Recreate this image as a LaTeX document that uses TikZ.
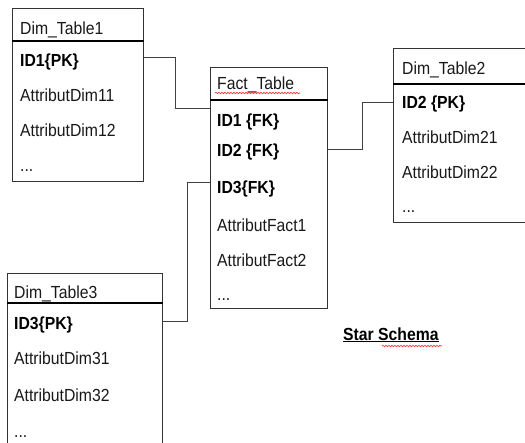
\documentclass[tikz,border=0pt]{standalone}
\usepackage{fontspec}
\setmainfont{Liberation Sans}[FakeStretch=0.9]
\usetikzlibrary{decorations.pathmorphing}
\begin{document}
\begin{tikzpicture}[x=1pt,y=-1pt,
  tbl/.style={draw=black!80, line width=0.9pt, anchor=north west, inner sep=0pt},
  hdr/.style={line width=2.2pt, black},
  txt/.style={anchor=base west, inner sep=0pt, font=\fontsize{17.5}{19}\selectfont, text=black!90},
  key/.style={anchor=base west, inner sep=0pt, font=\fontsize{17.5}{19}\selectfont\bfseries, text=black},
  link/.style={draw=black!75, line width=0.9pt},
  squig/.style={draw=red!80, line width=0.6pt, decorate, decoration={snake, amplitude=0.8pt, segment length=3pt}}]
\clip (0,0) rectangle (525,442);
\fill[white] (0,0) rectangle (525,442);
% Dim_Table1
\node[tbl, minimum width=131pt, minimum height=173pt] (d1) at (12,8) {};
\draw[hdr] ([yshift=-33pt]d1.north west) -- ([yshift=-33pt]d1.north east);
\node[txt] (d1t) at (20,34) {Dim\_Table1};
\node[key] (d1a) at (20,66) {ID1\{PK\}};
\node[txt] (d1b) at (20,101) {AttributDim11};
\node[txt] (d1c) at (20,136) {AttributDim12};
\node[txt] (d1d) at (20,171) {...};
% Fact_Table
\node[tbl, minimum width=117pt, minimum height=241pt] (f) at (210,67) {};
\draw[hdr] ([yshift=-33pt]f.north west) -- ([yshift=-33pt]f.north east);
\node[txt] (ft) at (217,89) {Fact\_Table};
\node[key] (fa) at (217,126) {ID1 \{FK\}};
\node[key] (fb) at (217,156) {ID2 \{FK\}};
\node[key] (fc) at (217,193) {ID3\{FK\}};
\node[txt] (fd) at (217,231) {AttributFact1};
\node[txt] (fe) at (217,266) {AttributFact2};
\node[txt] (ff) at (217,300) {...};
% Dim_Table2
\node[tbl, minimum width=145pt, minimum height=174pt] (d2) at (393,48) {};
\draw[hdr] ([yshift=-36pt]d2.north west) -- ([yshift=-36pt]d2.north east);
\node[txt] (d2t) at (402,74) {Dim\_Table2};
\node[key] (d2a) at (402,108) {ID2 \{PK\}};
\node[txt] (d2b) at (402,143) {AttributDim21};
\node[txt] (d2c) at (402,178) {AttributDim22};
\node[txt] (d2d) at (402,212) {...};
% Dim_Table3
\node[tbl, minimum width=155pt, minimum height=190pt] (d3) at (7,273) {};
\draw[hdr] ([yshift=-30pt]d3.north west) -- ([yshift=-30pt]d3.north east);
\node[txt] (d3t) at (14,298) {Dim\_Table3};
\node[key] (d3a) at (14,329) {ID3\{PK\}};
\node[txt] (d3b) at (14,364) {AttributDim31};
\node[txt] (d3c) at (14,401) {AttributDim32};
\node[txt] (d3d) at (14,437) {...};
% connectors
\draw[link] ([yshift=-49pt]d1.north east) -| ([xshift=-35pt,yshift=-41pt]f.north west) -- ([yshift=-41pt]f.north west);
\draw[link] ([yshift=-82pt]f.north east) -| ([xshift=-31pt,yshift=-54pt]d2.north west) -- ([yshift=-54pt]d2.north west);
\draw[link] ([yshift=-115pt]f.north west) -| ([xshift=25pt,yshift=-48pt]d3.north east) -- ([yshift=-48pt]d3.north east);
% title
\node[key] (ss) at (343,340) {\underline{Star Schema}};
\draw[squig] (215,93) -- (300,93);
\draw[squig] (382,346) -- (442,346);
\end{tikzpicture}
\end{document}
